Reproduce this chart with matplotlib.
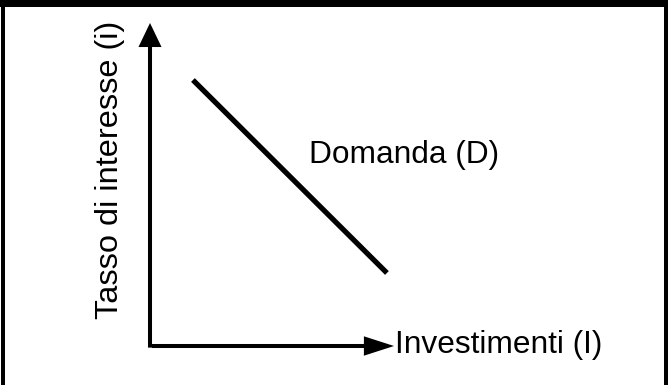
import matplotlib
matplotlib.use("Agg")
import matplotlib.pyplot as plt
from matplotlib.patches import Rectangle

# Data (conceptual demand curve)
investimenti = [1.76, 9.71]
tasso = [8.235, 2.26]
x_label = "Investimenti (I)"
y_label = "Tasso di interesse (i)"
curve_label = "Domanda (D)"

W, H = 668, 385
fig = plt.figure(figsize=(W / 100, H / 100), dpi=100)
fig.patch.set_facecolor("white")

# axes: origin at pixel (150, 346), tips at x=394, y=23
x0, y0, x1, y1 = 150, 346, 394, 23
ax = fig.add_axes([x0 / W, (H - y0) / H, (x1 - x0) / W, (y0 - y1) / H])
ax.set_xlim(0, 10)
ax.set_ylim(0, 10)
ax.axis("off")

font = "Liberation Sans"
fs = 22.8
lw_axis = 2.9

# axis arrows
ax.annotate("", xy=(0, 10), xytext=(0, -0.05), xycoords="data",
            arrowprops=dict(arrowstyle="-|>,head_length=12.5,head_width=6.0",
                            mutation_scale=1, lw=lw_axis, color="black",
                            shrinkA=0, shrinkB=0, joinstyle="miter", capstyle="butt"),
            annotation_clip=False)
ax.annotate("", xy=(10, 0), xytext=(0.08, 0), xycoords="data",
            arrowprops=dict(arrowstyle="-|>,head_length=15.5,head_width=5.0",
                            mutation_scale=1, lw=lw_axis, color="black",
                            shrinkA=0, shrinkB=0, joinstyle="miter", capstyle="butt"),
            annotation_clip=False)

# demand line
ax.plot(investimenti, tasso, color="black", lw=3.8, solid_capstyle="butt", clip_on=False)

# texts
ax.text(6.52, 5.66, curve_label, fontsize=fs, family=font, ha="left", va="baseline")
ax.text(10.04, -0.226, x_label, fontsize=fs, family=font, ha="left", va="baseline",
        clip_on=False)
ax.text(-1.30, 5.46, y_label, fontsize=23.4, family=font, rotation=90,
        rotation_mode="anchor", ha="center", va="baseline", clip_on=False)

# frame borders (pixel based)
def rect_px(x, y, w, h):
    fig.patches.append(Rectangle((x / W, (H - y - h) / H), w / W, h / H,
                                 transform=fig.transFigure, facecolor="black",
                                 edgecolor="none", zorder=10))

rect_px(0, 0, W, 7)       # top
rect_px(1, 0, 4, H)       # left
rect_px(664, 0, 4, H)     # right

fig.savefig("out.png", dpi=100, facecolor="white")
